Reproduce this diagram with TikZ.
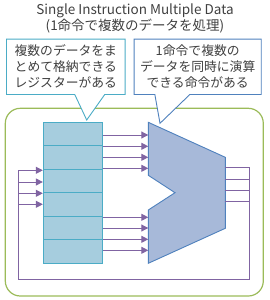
\documentclass[tikz,border=0pt]{standalone}
\usepackage{fontspec}
\setmainfont{Noto Sans CJK JP}
\usepackage{tikz}
\usetikzlibrary{arrows.meta,positioning,calc,backgrounds}
\definecolor{simdText}{HTML}{404040}
\definecolor{simdCyan}{HTML}{4BACC6}
\definecolor{simdBlue}{HTML}{4F81BD}
\definecolor{simdGreen}{HTML}{9BBB59}
\definecolor{simdPurple}{HTML}{8064A2}
\definecolor{regFill}{HTML}{A6CDDE}
\definecolor{aluFill}{HTML}{A7B9D9}

\begin{document}
\begin{tikzpicture}[
    x=1pt, y=-1pt,
    every node/.style={text=simdText},
    label/.style={align=center, font=\fontsize{12.8}{16}\selectfont, inner sep=0pt},
    callbox/.style={label, minimum width=118.3pt, minimum height=55pt},
    cell/.style={rectangle, draw=simdCyan, fill=regFill, line width=0.9pt, minimum width=59pt, minimum height=23.5pt, inner sep=0pt},
    alu/.style={draw=simdBlue, fill=aluFill, line width=0.9pt, line join=miter},
    wire/.style={draw=simdPurple, line width=1pt},
    arrow/.style={wire, -{Triangle[length=7pt,width=7pt]}}
]
    \useasboundingbox (0,0) rectangle (270,300);

    % Title
    \node[label, font=\fontsize{13.5}{16}\selectfont] (title) at (135,18)
        {Single Instruction Multiple Data\\(1命令で複数のデータを処理)};

    % Callout texts
    \node[callbox] (boxL) at (65.8,66.8) {複数のデータをま\\とめて格納できる\\レジスターがある};
    \node[callbox, minimum width=126.7pt] (boxR) at (197.7,66.8) {1命令で複数の\\データを同時に演算\\できる命令がある};
    \coordinate (tipL) at (86.7,120);
    \coordinate (tipR) at (160,123.3);

    % Frame and callout outlines
    \begin{scope}[on background layer]
        \draw[simdGreen, line width=1.2pt, rounded corners=15pt] (5.3,108.3) rectangle (263.3,296);
        \draw[simdCyan, fill=white, line width=0.9pt] (boxL.north west) -- (boxL.north east) -- (boxL.south east)
            -- ([xshift=98.3pt]boxL.south west) -- (tipL) -- ([xshift=68.3pt]boxL.south west) -- (boxL.south west) -- cycle;
        \draw[simdBlue, fill=white, line width=0.9pt] (boxR.north west) -- (boxR.north east) -- (boxR.south east)
            -- ([xshift=55.7pt]boxR.south west) -- (tipR) -- ([xshift=20.7pt]boxR.south west) -- (boxR.south west) -- cycle;
    \end{scope}

    % Registers
    \foreach \i in {1,...,6}
        \node[cell] (reg\i) at (72.8,110.55+23.5*\i) {};

    % SIMD unit
    \coordinate (aluL) at (148.3,122.3);
    \coordinate (aluR) at (225.3,157.3);
    \draw[alu] (aluL) -- (aluR) -- (225.3,228.3) -- (148.3,263.3) -- (148.3,210)
        -- (175,192.7) -- (148.3,175.3) -- cycle;

    % Register to unit
    \foreach \y in {135,146.3,157.3,168.3,217.3,228,239.3,250.3}
        \draw[arrow] (reg1.east |- 0,\y) -- (aluL |- 0,\y);

    % Results back to registers
    \coordinate (loopR) at (249.3,279);
    \coordinate (loopL) at (18.7,279);
    \foreach \y in {179.3,190.3,201}
        \draw[wire] (aluR |- 0,\y) -- (loopR |- 0,\y);
    \draw[wire] (aluR |- 0,167.7) -- (loopR |- 0,167.7) -- (loopR) -- (loopL) -- (loopL |- 0,170.3);
    \foreach \y in {170.3,182,193.3,204.3}
        \draw[arrow] (loopL |- 0,\y) -- (reg3.west |- 0,\y);
\end{tikzpicture}
\end{document}
